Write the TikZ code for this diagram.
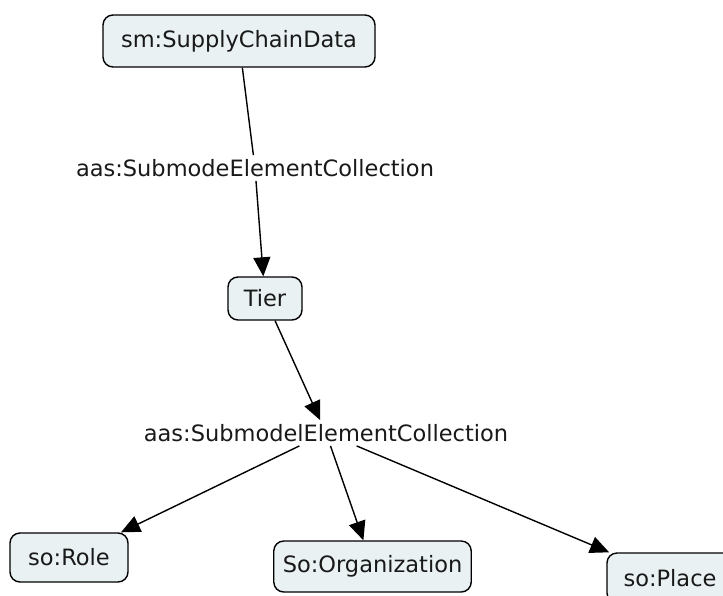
\documentclass[tikz,border=0pt]{standalone}
\usepackage{fontspec}
\setmainfont{DejaVu Sans}
\usetikzlibrary{arrows.meta}
\definecolor{boxfill}{HTML}{E9F1F3}
\tikzset{
  concept/.style={draw=black, line width=1.4pt, fill=boxfill, rounded corners=10pt,
    inner xsep=9pt, inner ysep=0pt, font=\fontsize{22.5}{26}\selectfont, text=black!90},
  linklabel/.style={inner sep=4pt, font=\fontsize{22.5}{26}\selectfont, text=black!90},
  link/.style={line width=1.4pt, draw=black},
  arrowlink/.style={link, -{Triangle[length=19pt,width=17pt]}}
}
\begin{document}
\begin{tikzpicture}[x=1pt,y=-1pt]
\useasboundingbox (0,0) rectangle (723,595);
\node[concept, minimum height=52pt, minimum width=272pt] (scd) at (239,41) {sm:SupplyChainData};
\node[linklabel] (l1) at (255,168) {aas:SubmodeElementCollection};
\node[concept, minimum height=43pt, minimum width=74pt] (tier) at (265,298.5) {Tier};
\node[linklabel] (l2) at (326,433) {aas:SubmodelElementCollection};
\node[concept, minimum height=49pt, minimum width=118pt] (role) at (69,557.5) {so:Role};
\node[concept, minimum height=51pt, minimum width=189pt] (org) at (372.5,566.5) {So:Organization};
\node[concept, minimum height=50pt, minimum width=126pt] (place) at (670,578) {so:Place};
\draw[link] (scd) -- (l1);
\draw[arrowlink] (l1) -- (tier);
\draw[arrowlink] (tier) -- (l2);
\draw[arrowlink] (l2) -- (role);
\draw[arrowlink] (l2) -- (org);
\draw[arrowlink] (l2) -- (place);
\end{tikzpicture}
\end{document}
